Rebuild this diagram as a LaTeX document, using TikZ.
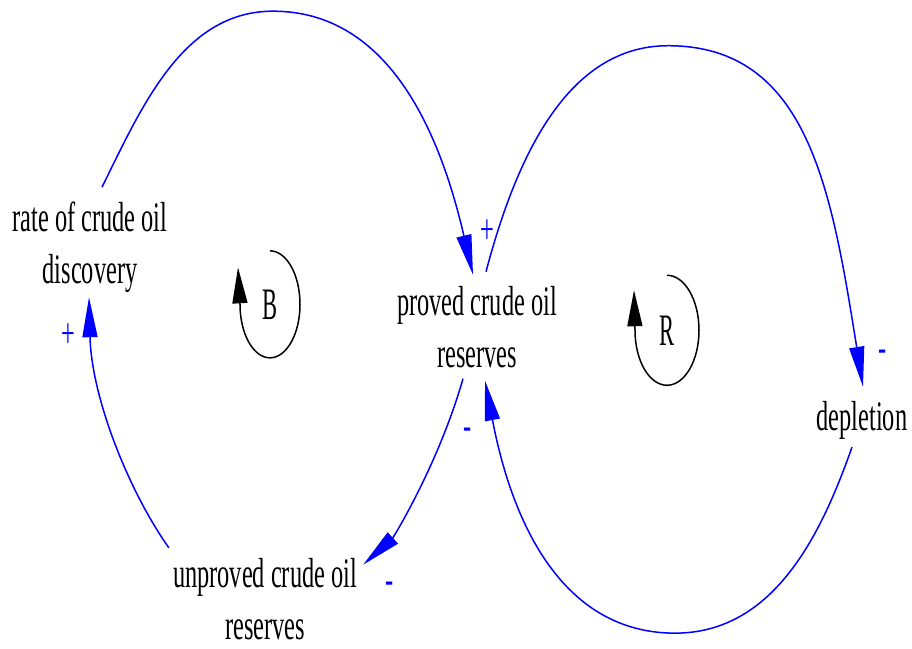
\documentclass[tikz,border=0pt]{standalone}
\usepackage{fontspec}
\setmainfont[FakeStretch=0.58]{Liberation Serif}
\newfontfamily\loopfont[FakeStretch=0.5]{Liberation Serif}
\usetikzlibrary{arrows.meta}
\definecolor{linkc}{HTML}{0000FF}

\begin{document}
\begin{tikzpicture}[x=1pt,y=-1pt,
    var/.style={align=center,inner sep=0pt,font=\fontsize{42}{52}\selectfont},
    link/.style={draw=linkc,line width=1.5pt,-{Triangle[length=40pt,width=15pt]}},
    pol/.style={anchor=base,inner sep=0pt,text=linkc,font=\fontsize{42}{52}\selectfont},
    looplbl/.style={anchor=base,inner sep=0pt,font=\loopfont\fontsize{45}{45}\selectfont},
    loopline/.style={draw=black,line width=1.5pt,-{Triangle[length=36pt,width=15pt]}}]
  \useasboundingbox (0,0) rectangle (912,648);

  % variables
  \node[var] (disc) at (90,247.7) {rate of crude oil\\discovery};
  \node[var] (proved) at (477,326.7) {proved crude oil\\reserves};
  \node[var,anchor=base] (depl) at (862,430) {depletion};
  \node[var] (unproved) at (265,598.7) {unproved crude oil\\reserves};

  % causal links
  \draw[link] ([shift={(12,-15)}]disc.north) .. controls +(40,-81) and +(-90,0) .. ++(171,-176)
    .. controls +(125,0) and +(-28.5,-122) .. ([shift={(-4,-11)}]proved.north);
  \draw[link] ([shift={(9,-14)}]proved.north) .. controls +(30.6,-116) and +(-100,0) .. ++(182,-226)
    .. controls +(140,0) and +(-31.6,-197.4) .. ([shift={(1,-14)}]depl.north);
  \draw[link] ([shift={(-10,8)}]depl.south) .. controls +(-30,85) and +(100,0) .. ++(-177,186)
    .. controls +(-110,0) and +(28,147) .. ([shift={(8,13)}]proved.south);
  \draw[link] ([shift={(-14,11)}]proved.south) .. controls +(-24.8,86.6) and +(29.7,-26.8)
    .. ([shift={(6,7)}]unproved.north east);
  \draw[link] ([shift={(-4,-10)}]unproved.north west) .. controls +(-40.4,-57.1) and +(2.5,100)
    .. ([shift={(-1,4)}]disc.south);

  % polarities
  \foreach \x/\y/\s [count=\i] in {487/243.6/+, 883/361.7/-, 468/439.7/-, 390/593.7/-, 68/347.6/+}
    \node[pol] (pol\i) at (\x,\y) {\s};

  % loops
  \node[looplbl] (loopB) at (270,319) {B};
  \node[looplbl] (loopR) at (667,345) {R};
  \draw[loopline] ([yshift=53.5pt]loopB.center) arc[start angle=270,end angle=540,x radius=30,y radius=53.5]
    -- ++(-2,-37);
  \draw[loopline] ([yshift=55pt]loopR.center) arc[start angle=270,end angle=540,x radius=32,y radius=55]
    -- ++(-1,-40);
\end{tikzpicture}
\end{document}
